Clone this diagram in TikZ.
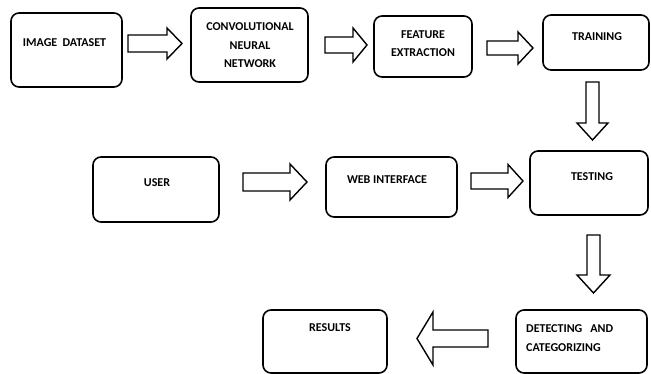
\documentclass[tikz,border=0pt]{standalone}
\usepackage{fontspec}
\setmainfont{Carlito}
\begin{document}
\begin{tikzpicture}[x=1pt,y=-1pt,
  box/.style={draw=black, line width=1.6pt, rounded corners=8pt, inner sep=0pt, fill=white},
  lbl/.style={font=\fontsize{12}{13}\selectfont\bfseries, inner sep=0pt, anchor=center},
  blk/.style={draw=black, line width=1.4pt, fill=white, line join=miter}]
\useasboundingbox (0,0) rectangle (651,374);

\newcommand\harrowblk[6]{%
  \draw[blk] (#1,#4-#5) -- (#2,#4-#5) -- (#2,#4-#6) -- (#3,#4) -- (#2,#4+#6) -- (#2,#4+#5) -- (#1,#4+#5) -- cycle;}
\newcommand\varrowblk[6]{%
  \draw[blk] (#4-#5,#1) -- (#4-#5,#2) -- (#4-#6,#2) -- (#4,#3) -- (#4+#6,#2) -- (#4+#5,#2) -- (#4+#5,#1) -- cycle;}

% boxes
\node[box, minimum width=111pt, minimum height=74pt] (img) at (66.5,50) {};
\node[box, minimum width=117pt, minimum height=74pt] (cnn) at (249.5,45) {};
\node[box, minimum width=98pt, minimum height=61pt] (feat) at (423,46.5) {};
\node[box, minimum width=106pt, minimum height=55pt] (train) at (596,42.5) {};
\node[box, minimum width=126pt, minimum height=65pt] (user) at (156,189.5) {};
\node[box, minimum width=131pt, minimum height=60pt] (web) at (391.5,187) {};
\node[box, minimum width=118pt, minimum height=64pt] (test) at (589,183) {};
\node[box, minimum width=131pt, minimum height=63pt] (detect) at (581.5,341.5) {};
\node[box, minimum width=124pt, minimum height=63pt] (res) at (325,341.5) {};

% labels
\node[lbl] (t1) at (64.5,43) {IMAGE\ \ DATASET};
\node[lbl] (t2a) at (250,27) {CONVOLUTIONAL};
\node[lbl] (t2b) at (250,46) {NEURAL};
\node[lbl] (t2c) at (250,64) {NETWORK};
\node[lbl] (t3a) at (423,35) {FEATURE};
\node[lbl] (t3b) at (423,53) {EXTRACTION};
\node[lbl] (t4) at (597,37) {TRAINING};
\node[lbl] (t5) at (157,183) {USER};
\node[lbl] (t6) at (387,180) {WEB INTERFACE};
\node[lbl] (t7) at (592,177) {TESTING};
\node[lbl, anchor=west] (t8a) at (526,329) {DETECTING\ \ \ AND};
\node[lbl, anchor=west] (t8b) at (526,348) {CATEGORIZING};
\node[lbl] (t9) at (330,328) {RESULTS};

% block arrows
\harrowblk{128}{167}{182}{43.5}{8.5}{15.5}
\harrowblk{325}{353}{367}{45}{8}{17}
\harrowblk{487}{518}{533}{48}{7}{16}
\harrowblk{243}{290}{307}{182}{9}{18}
\harrowblk{471}{508}{523}{181}{8}{16.5}
\harrowblk{488}{433}{417}{338.5}{8.5}{26.5}
\varrowblk{82}{123}{140}{592.5}{6.5}{15.5}
\varrowblk{235}{275}{293}{593.5}{6.5}{16.5}
\end{tikzpicture}
\end{document}
